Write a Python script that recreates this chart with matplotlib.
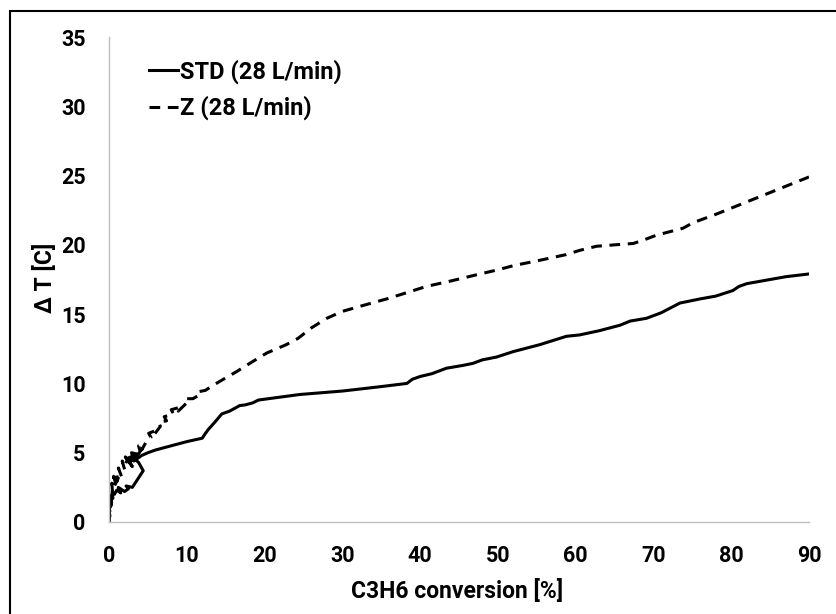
import matplotlib
matplotlib.use("Agg")
import matplotlib.pyplot as plt
from matplotlib.patches import Rectangle

# STD (28 L/min) - solid line
std_x = [0, 0.05, 0.1, 0.0, 0.2, 0.15, 0.3, 0.25, 0.5, 0.4, 0.7, 1.0, 1.5, 1.2, 2.0, 2.5,
         2.2, 3.0, 4.4, 3.8, 3.2, 2.6, 3.0, 2.4, 3.6, 3.2, 4.2, 5.0, 6.0, 8.0, 10.0, 12.0,
         12.4, 12.8, 13.6, 14.5, 15.5, 16.8, 17.5, 18.5, 19.2, 24.5, 30, 34.8, 38.3, 39.0,
         40.0, 41.5, 43.4, 45.5, 46.8, 48.0, 49.8, 52, 55.4, 58.8, 60.5, 63, 65.7, 67, 69.1,
         71, 73.4, 76.0, 78, 80.2, 81, 82.0, 84, 87, 90]
std_y = [0, 0.6, 0.4, 1.0, 1.1, 1.6, 1.4, 1.9, 1.7, 2.2, 2.0, 2.3, 2.1, 2.5, 2.2, 2.4,
         2.6, 2.5, 3.7, 4.3, 4.6, 4.3, 4.0, 4.6, 4.9, 4.4, 4.8, 5.0, 5.2, 5.5, 5.8, 6.05,
         6.4, 6.7, 7.2, 7.8, 8.0, 8.4, 8.45, 8.6, 8.8, 9.2, 9.45, 9.76, 10.0, 10.3,
         10.5, 10.7, 11.1, 11.3, 11.45, 11.7, 11.9, 12.3, 12.8, 13.4, 13.5, 13.8, 14.2, 14.5, 14.7,
         15.1, 15.8, 16.1, 16.3, 16.7, 17.0, 17.2, 17.4, 17.7, 17.9]

# Z (28 L/min) - dashed line
z_x = [0, 0.05, 0.15, 0.0, 0.1, 0.3, 0.2, 0.25, 0.5, 0.35, 0.45, 0.8, 0.6, 0.7, 1.1, 0.9,
       1.0, 1.4, 1.2, 1.6, 2.0, 1.7, 1.9, 2.4, 2.1, 2.8, 2.6, 3.2, 2.9, 3.6, 3.4, 4.0,
       3.8, 4.4, 4.2, 4.8, 5.4, 5.1, 6.0, 5.8, 6.6, 6.4, 7.4, 7.1, 8.3, 8.0, 9.2, 8.9,
       10.0, 9.8, 10.8, 11.7, 11.5, 12.4, 13.2, 14.7, 16.4, 18.1, 20.3, 22.8, 24.3, 26, 28,
       30, 32.5, 35.7, 38, 40.8, 44, 47.7, 50, 52.0, 55.5, 58.8, 60.5, 62.7, 65, 67.4, 68.5,
       70.4, 73.8, 75.1, 78, 82.0, 86, 90]
z_y = [0, 0.8, 0.5, 1.3, 1.7, 1.2, 2.1, 1.6, 2.3, 2.8, 2.2, 2.9, 3.3, 2.6, 3.1, 3.6,
       2.9, 3.5, 3.9, 3.3, 3.8, 4.4, 4.0, 4.5, 4.7, 4.1, 4.6, 4.4, 5.0, 4.9, 4.5, 5.1,
       5.5, 5.6, 5.2, 5.8, 6.1, 6.4, 6.6, 6.3, 6.9, 7.2, 7.3, 7.6, 7.8, 8.1, 8.3, 8.0,
       8.6, 8.9, 8.9, 9.2, 9.4, 9.5, 9.8, 10.3, 10.85, 11.45, 12.2, 12.8, 13.25, 14.0, 14.7,
       15.2, 15.6, 16.1, 16.5, 17.0, 17.4, 17.9, 18.2, 18.5, 18.9, 19.3, 19.6, 19.9, 20.0, 20.1, 20.3,
       20.7, 21.2, 21.6, 22.2, 23.1, 24.0, 24.9]

x_ticks = [0, 10, 20, 30, 40, 50, 60, 70, 80, 90]
y_ticks = [0, 5, 10, 15, 20, 25, 30, 35]

plt.rcParams['font.family'] = ['Roboto', 'DejaVu Sans']
plt.rcParams['font.weight'] = 'bold'

fig = plt.figure(figsize=(8.36, 6.14), dpi=100)
# outer chart frame (cut off on the right and bottom like the source)
fig.patches.append(Rectangle((10 / 836, -0.1), 1.2, 1 - 11 / 614 + 0.1,
                             transform=fig.transFigure, fill=False,
                             edgecolor='black', linewidth=1.5))

ax = fig.add_axes([109 / 836, 1 - 522 / 614, 700 / 836, 485 / 614])

ax.plot(std_x, std_y, color='black', linewidth=2.2, label='STD (28 L/min)')
ax.plot(z_x, z_y, color='black', linewidth=2.2, linestyle=(0, (3.5, 2.5)),
        label='Z (28 L/min)')

ax.set_xlim(0, 90)
ax.set_ylim(0, 35)
ax.set_xticks(x_ticks)
ax.set_yticks(y_ticks)
ax.tick_params(length=0, labelsize=15.5)
ax.tick_params(axis='y', pad=17)
ax.tick_params(axis='x', pad=16.5)
for lab in ax.get_xticklabels() + ax.get_yticklabels():
    lab.set_fontweight('bold')

for s in ['top', 'right']:
    ax.spines[s].set_visible(False)
for s in ['left', 'bottom']:
    ax.spines[s].set_color('#bfbfbf')
    ax.spines[s].set_linewidth(1)

ax.set_xlabel('C3H6 conversion [%]', fontsize=16.5, fontweight='bold')
ax.set_ylabel('Δ T [C]', fontsize=16.5, fontweight='bold')
ax.xaxis.set_label_coords(0.497, -0.1175)
ax.yaxis.set_label_coords(-0.074, 0.503)

ax.legend(loc='upper left', bbox_to_anchor=(0.04, 0.978), frameon=False,
          borderpad=0, handlelength=1.25, handletextpad=0.05, labelspacing=0.5,
          prop={'weight': 'bold', 'size': 17})

fig.savefig('out.png', dpi=100)
